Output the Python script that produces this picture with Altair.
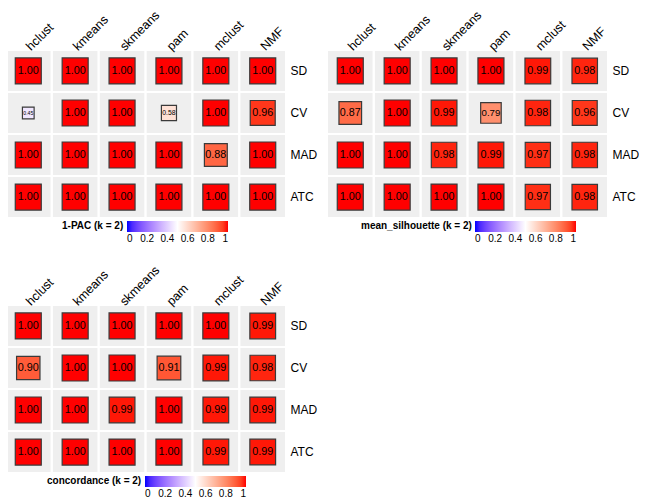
import altair as alt
import pandas as pd

rows = ["SD", "CV", "MAD", "ATC"]
methods = ["hclust", "kmeans", "skmeans", "pam", "mclust", "NMF"]

pac = [
    [1.00, 1.00, 1.00, 1.00, 1.00, 1.00],
    [0.45, 1.00, 1.00, 0.58, 1.00, 0.96],
    [1.00, 1.00, 1.00, 1.00, 0.88, 1.00],
    [1.00, 1.00, 1.00, 1.00, 1.00, 1.00],
]
silhouette = [
    [1.00, 1.00, 1.00, 1.00, 0.99, 0.98],
    [0.87, 1.00, 0.99, 0.79, 0.98, 0.96],
    [1.00, 1.00, 0.98, 0.99, 0.97, 0.98],
    [1.00, 1.00, 1.00, 1.00, 0.97, 0.98],
]
concordance = [
    [1.00, 1.00, 1.00, 1.00, 1.00, 0.99],
    [0.90, 1.00, 1.00, 0.91, 0.99, 0.98],
    [1.00, 1.00, 0.99, 1.00, 0.99, 0.99],
    [1.00, 1.00, 1.00, 1.00, 0.99, 0.99],
]
titles = ["1-PAC (k = 2)", "mean_silhouette (k = 2)", "concordance (k = 2)"]

FONT = "Liberation Sans"


def frame(mat):
    recs = []
    for i, r in enumerate(rows):
        for j, m in enumerate(methods):
            recs.append({"metric": r, "method": m, "value": mat[i][j]})
    return pd.DataFrame(recs)


def panel(mat, title, legend_x):
    df = frame(mat)
    x = alt.X("method:N", sort=methods, title=None,
              scale=alt.Scale(paddingInner=0.05, paddingOuter=0),
              axis=alt.Axis(orient="top", labelAngle=-45, labelAlign="left",
                            labelBaseline="middle", labelFontSize=12.5,
                            labelFont=FONT, labelColor="black", ticks=False,
                            domain=False, labelPadding=3))
    y = alt.Y("metric:N", sort=rows, title=None,
              scale=alt.Scale(paddingInner=0.05, paddingOuter=0),
              axis=alt.Axis(orient="right", labelFontSize=12, labelFont=FONT,
                            labelColor="black", ticks=False, domain=False,
                            labelPadding=5))
    base = alt.Chart(df).encode(x=x, y=y)
    tiles = base.mark_rect(color="#EFEFEF")
    squares = base.mark_square(filled=True, stroke="#3a3a3a", strokeWidth=1.2,
                               opacity=1).encode(
        color=alt.Color("value:Q",
                        scale=alt.Scale(domain=[0, 0.5, 1],
                                        range=["#0000FF", "#FFFFFF", "#FF0000"],
                                        interpolate="lab"),
                        legend=alt.Legend(title=title, orient="none",
                                          legendX=legend_x, legendY=170,
                                          direction="horizontal",
                                          titleOrient="left",
                                          titleAnchor="start",
                                          titleFontSize=10, titleFont=FONT,
                                          titleFontWeight="bold",
                                          titleColor="black",
                                          titleBaseline="top",
                                          titlePadding=3,
                                          gradientLength=101,
                                          gradientThickness=11,
                                          gradientStrokeWidth=0,
                                          values=[0, 0.2, 0.4, 0.6, 0.8, 1],
                                          format="~g", labelFontSize=10,
                                          labelFont=FONT, labelColor="black",
                                          labelOverlap=False)),
        size=alt.Size("value:Q", legend=None,
                      scale=alt.Scale(type="pow", exponent=2,
                                      domain=[0, 1], range=[0, 676])),
    )
    text = base.mark_text(font=FONT, color="black").transform_calculate(
        fs="min(10.8, (26*datum.value - 1.8)/1.946)"
    ).encode(
        text=alt.Text("value:Q", format=".2f"),
        size=alt.Size("fs:Q", scale=None, legend=None),
    )
    return alt.layer(tiles, squares, text).resolve_scale(
        color="independent", size="independent"
    ).properties(width=279, height=166)


p1 = panel(pac, titles[0], 56)
p2 = panel(silhouette, titles[1], 33)
p3 = panel(concordance, titles[2], 41)

chart = alt.vconcat(
    alt.hconcat(p1, p2, spacing=11),
    p3,
    spacing=19,
).resolve_scale(color="independent").properties(
    padding={"left": -2, "top": 0, "right": 0, "bottom": 0}
).configure_view(stroke=None)

chart.save("out.html", embed_options={"renderer": "svg", "actions": False})
